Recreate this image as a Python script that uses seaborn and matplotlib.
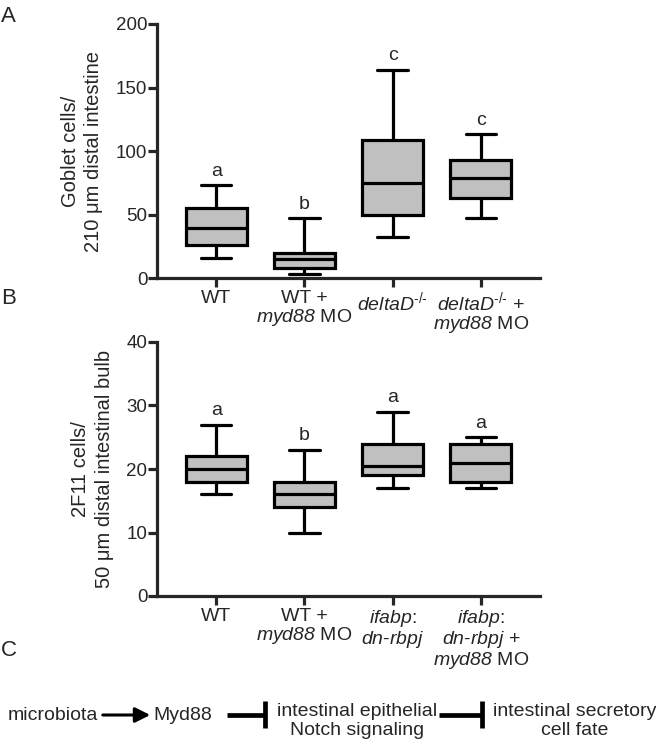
import matplotlib
matplotlib.use("Agg")
import matplotlib.pyplot as plt
import seaborn as sns
import pandas as pd
from matplotlib.lines import Line2D
from matplotlib.patches import FancyArrowPatch

sns.set_style("ticks")
plt.rcParams["font.family"] = ["Liberation Sans", "DejaVu Sans"]
plt.rcParams["mathtext.fontset"] = "custom"
plt.rcParams["mathtext.rm"] = "Liberation Sans"
plt.rcParams["mathtext.it"] = "Liberation Sans:italic"
plt.rcParams["mathtext.cal"] = "Liberation Sans:italic"
plt.rcParams["mathtext.bf"] = "Liberation Sans:bold"

# ---------------- data (five-number summaries) -------------
groups_a = ["WT", "WT + myd88 MO", "deltaD-/-", "deltaD-/- + myd88 MO"]
labels_a = ["WT",
            "WT +\n$\\mathcal{myd88}$ MO",
            "$\\mathcal{deltaD}^{\u2010/\u2010}$",
            "$\\mathcal{deltaD}^{\u2010/\u2010}$ +\n$\\mathcal{myd88}$ MO"]
wt_a = [16, 26, 39, 55, 73]
wt_myd88_a = [3.5, 8, 15, 20, 47]
deltad_a = [32, 50, 75, 109, 164]
deltad_myd88_a = [47, 63, 79, 93, 113]
letters_a = ["a", "b", "c", "c"]

groups_b = ["WT", "WT + myd88 MO", "ifabp:dn-rbpj", "ifabp:dn-rbpj + myd88 MO"]
labels_b = ["WT",
            "WT +\n$\\mathcal{myd88}$ MO",
            "$\\mathcal{ifabp}$:\n$\\mathcal{dn}$-$\\mathcal{rbpj}$",
            "$\\mathcal{ifabp}$:\n$\\mathcal{dn}$-$\\mathcal{rbpj}$ +\n$\\mathcal{myd88}$ MO"]
wt_b = [16, 18, 20, 22, 27]
wt_myd88_b = [10, 14, 16, 18, 23]
ifabp_b = [17, 19, 20.5, 24, 29]
ifabp_myd88_b = [17, 18, 21, 24, 25]
letters_b = ["a", "b", "a", "a"]

df_a = pd.DataFrame({
    "group": [g for g, v in zip(groups_a, [wt_a, wt_myd88_a, deltad_a, deltad_myd88_a]) for _ in v],
    "value": wt_a + wt_myd88_a + deltad_a + deltad_myd88_a,
})
df_b = pd.DataFrame({
    "group": [g for g, v in zip(groups_b, [wt_b, wt_myd88_b, ifabp_b, ifabp_myd88_b]) for _ in v],
    "value": wt_b + wt_myd88_b + ifabp_b + ifabp_myd88_b,
})

W, H = 656, 743
fig = plt.figure(figsize=(W / 100, H / 100), dpi=100)

def fx(x):
    return x / W

def fy(y):
    return 1 - y / H

LW = 2.3
FS = 14
FS_Y = 13.5

def panel(rect, df, order, labels, letters, ylim, yticks, ylabel, tops):
    ax = fig.add_axes(rect)
    sns.boxplot(data=df, x="group", y="value", order=order, whis=(0, 100),
                width=0.69, color="#c0c0c0", saturation=1, linecolor="black",
                linewidth=LW, fliersize=0, ax=ax)
    ax.set_xlim(-0.67, 3.67)
    ax.set_ylim(*ylim)
    ax.set_yticks(yticks)
    ax.set_xticks(range(4))
    ax.set_xticklabels(labels, fontsize=FS, linespacing=1.0)
    ax.tick_params(axis="y", labelsize=FS_Y, width=LW, length=6.5, pad=0.5)
    ax.tick_params(axis="x", width=LW, length=6.5, pad=2)
    for s in ["top", "right"]:
        ax.spines[s].set_visible(False)
    for s in ["left", "bottom"]:
        ax.spines[s].set_linewidth(LW)
    ax.set_xlabel("")
    ax.set_ylabel(ylabel, fontsize=14.5, linespacing=1.3, labelpad=9)
    for i, (t, l) in enumerate(zip(tops, letters)):
        ax.annotate(l, xy=(i, t), xytext=(0, 7), textcoords="offset points",
                    ha="center", va="baseline", fontsize=FS)
    return ax

axA = panel([fx(157), fy(278), fx(540) - fx(157), fy(24) - fy(278)],
            df_a, groups_a, labels_a, letters_a, (0, 200), [0, 50, 100, 150, 200],
            "Goblet cells/\n210 \u03bcm distal intestine",
            [max(v) for v in [wt_a, wt_myd88_a, deltad_a, deltad_myd88_a]])
axB = panel([fx(157), fy(596), fx(540) - fx(157), fy(342) - fy(596)],
            df_b, groups_b, labels_b, letters_b, (0, 40), [0, 10, 20, 30, 40],
            "2F11 cells/\n50 \u03bcm distal intestinal bulb",
            [max(v) for v in [wt_b, wt_myd88_b, ifabp_b, ifabp_myd88_b]])

# panel letters
for letter, y in [("A", 16), ("B", 299), ("C", 650)]:
    fig.text(fx(1), fy(y), letter, fontsize=16, ha="left", va="center")

# ---------------- panel C diagram ----------------
yc = 715
fig.text(fx(8), fy(yc), "microbiota", fontsize=FS, ha="left", va="center")
fig.text(fx(153), fy(yc), "Myd88", fontsize=FS, ha="left", va="center")
fig.text(fx(357), fy(721), "intestinal epithelial\nNotch signaling", fontsize=FS,
         ha="center", va="center", linespacing=1.1)
fig.text(fx(575), fy(721), "intestinal secretory\ncell fate", fontsize=FS,
         ha="center", va="center", linespacing=1.1)

arrow = FancyArrowPatch((fx(100), fy(yc)), (fx(153), fy(yc)), transform=fig.transFigure,
                        arrowstyle="-|>,head_length=9,head_width=4.5", mutation_scale=1,
                        lw=2.2, color="black")
fig.add_artist(arrow)

for x0, x1 in [(227, 265), (439, 482)]:
    fig.add_artist(Line2D([fx(x0), fx(x1)], [fy(yc), fy(yc)], transform=fig.transFigure,
                          lw=3.4, color="black", solid_capstyle="butt"))
    fig.add_artist(Line2D([fx(x1), fx(x1)], [fy(701), fy(728)], transform=fig.transFigure,
                          lw=3.4, color="black", solid_capstyle="butt"))

fig.savefig("out.png", dpi=100)
